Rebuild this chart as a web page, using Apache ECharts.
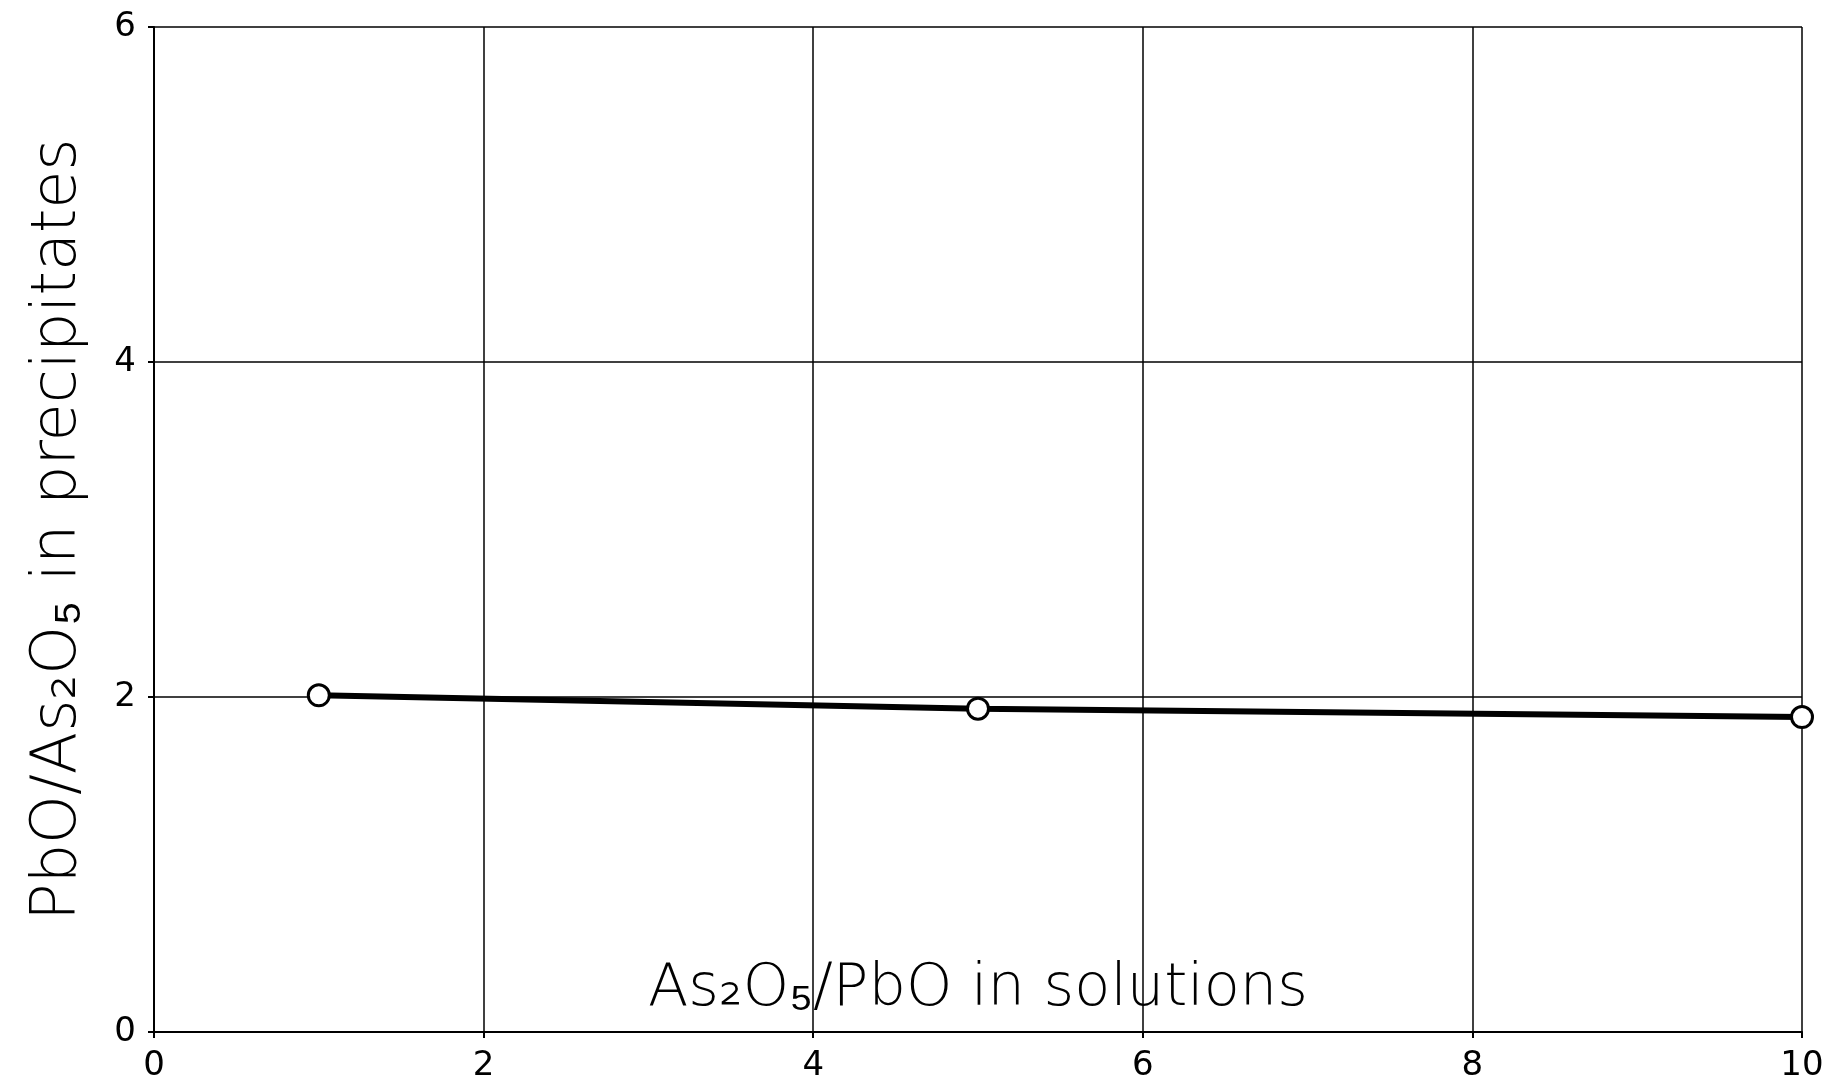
<!DOCTYPE html>
<html>
<head>
<meta charset="utf-8">
<title>PbO/As2O5</title>
<script src="https://cdn.jsdelivr.net/npm/echarts@6/dist/echarts.min.js"></script>
<style>
  html, body { margin: 0; padding: 0; background: #fff; }
  #chart { width: 1826px; height: 1091px; }
</style>
</head>
<body>
<div id="chart"></div>
<script>
  // ratio As2O5/PbO in solution (x) vs PbO/As2O5 in precipitate (y)
  const solutionRatio = [1, 5, 10];
  const precipitateRatio = [2.01, 1.93, 1.88];
  const xTicks = [0, 2, 4, 6, 8, 10];
  const yTicks = [0, 2, 4, 6];

  const xTitle = 'As₂O₅/PbO in solutions';
  const yTitle = 'PbO/As₂O₅ in precipitates';

  const points = solutionRatio.map((x, i) => [x, precipitateRatio[i]]);
  const font = '"DejaVu Sans", sans-serif';

  let chart = echarts.init(document.getElementById('chart'));
  chart.setOption({
    backgroundColor: '#fff',
    animation: false,
    grid: {
      left: 154,
      right: 24,
      top: 27,
      bottom: 59,
      outerBoundsMode: 'none',
      containLabel: false
    },
    xAxis: {
      type: 'value',
      min: xTicks[0],
      max: xTicks[xTicks.length - 1],
      interval: 2,
      name: xTitle,
      nameLocation: 'middle',
      nameGap: -72,
      nameMoveOverlap: false,
      nameTextStyle: { fontFamily: font, fontSize: 59, color: '#000', fontWeight: 300 },
      axisLine: { show: true, lineStyle: { color: '#000', width: 2 } },
      axisTick: { show: true, length: 6, lineStyle: { color: '#000', width: 2 } },
      axisLabel: { fontFamily: font, fontSize: 34, color: '#000', margin: 17 },
      splitLine: { show: true, lineStyle: { color: '#000', width: 1.5 } }
    },
    yAxis: {
      type: 'value',
      min: yTicks[0],
      max: yTicks[yTicks.length - 1],
      interval: 2,
      name: yTitle,
      nameLocation: 'middle',
      nameGap: 64,
      nameMoveOverlap: false,
      nameTextStyle: { fontFamily: font, fontSize: 62, color: '#000', fontWeight: 300 },
      axisLine: { show: true, lineStyle: { color: '#000', width: 2 } },
      axisTick: { show: true, length: 6, lineStyle: { color: '#000', width: 2 } },
      axisLabel: { fontFamily: font, fontSize: 34, color: '#000', margin: 18 },
      splitLine: { show: true, lineStyle: { color: '#000', width: 1.5 } }
    },
    series: [{
      type: 'line',
      data: points,
      symbol: 'circle',
      symbolSize: 21,
      lineStyle: { color: '#000', width: 6 },
      itemStyle: { color: '#fff', borderColor: '#000', borderWidth: 3 },
      z: 5
    }]
  });
</script>
</body>
</html>
